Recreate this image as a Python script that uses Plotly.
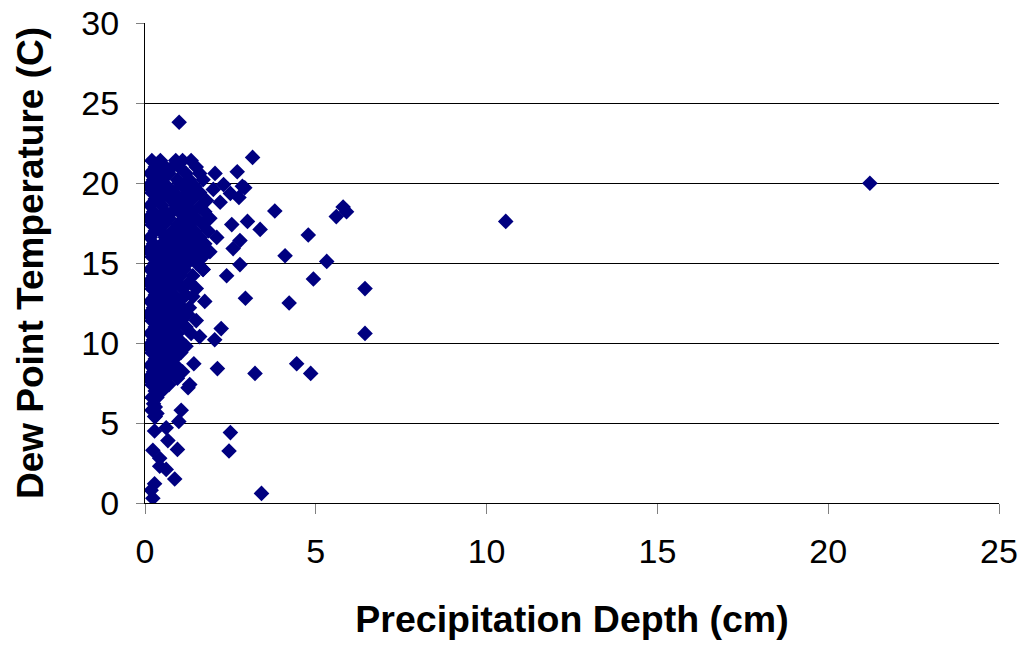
import plotly.graph_objects as go

# Dense cluster near the origin (precipitation depth cm, dew point C)
cluster_x = [
    0.2, 0.45, 0.9, 1.1, 1.35,
    0.3, 0.6, 0.8, 1.0, 1.5,
    0.15, 0.4, 0.7, 1.2, 1.6, 2.05, 2.7,
    0.25, 0.5, 0.95, 1.3, 1.7,
    0.1, 0.35, 0.65, 1.1, 1.45, 2.0, 2.3, 2.85,
    0.2, 0.55, 0.85, 1.25, 1.6, 2.5, 2.75,
    0.3, 0.45, 0.75, 1.05, 1.4, 1.8,
    0.15, 0.5, 0.9, 1.2, 1.6, 2.2,
    0.25, 0.6, 0.8, 1.0, 1.35, 1.75,
    0.1, 0.4, 0.7, 1.15, 1.5, 1.9,
    0.2, 0.55, 0.95, 1.3, 1.7,
    0.3, 0.45, 0.8, 1.1, 1.45, 1.85,
    0.15, 0.6, 0.9, 1.25, 1.6,
    0.25, 0.5, 0.75, 1.05, 1.4, 1.75,
    0.1, 0.35, 0.65, 0.95, 1.2, 1.55, 1.9,
    0.2, 0.55, 0.85, 1.1, 1.35, 1.7,
    0.3, 0.45, 0.7, 1.0, 1.25, 1.5,
    0.15, 0.4, 0.6, 0.9, 1.15, 1.7,
    0.25, 0.5, 0.8, 1.05, 1.4,
    0.1, 0.35, 0.65, 0.95, 1.3,
    0.2, 0.45, 0.75, 1.1, 1.5,
    0.3, 0.55, 0.85, 1.2, 1.4,
    0.15, 0.4, 0.7, 1.0,
    0.25, 0.5, 0.8, 1.1, 1.3,
    0.1, 0.35, 0.6, 0.9, 1.25,
    0.2, 0.45, 0.75, 1.05, 1.5,
    0.3, 0.55, 0.85, 1.2,
    0.15, 0.4, 0.65, 0.95, 1.35,
    0.25, 0.5, 0.8, 1.0,
    0.1, 0.35, 0.6, 0.9, 1.2,
    0.2, 0.45, 0.75, 1.05,
    0.3, 0.55, 0.85,
    0.15, 0.4, 0.65, 0.9,
    0.25, 0.5, 0.8, 1.1,
    0.1, 0.35, 0.6, 0.95,
    0.2, 0.45, 0.7,
    0.3, 0.5,
    0.2, 0.35,
    0.25, 0.3,
    0.2, 0.35,
    0.3,
]
cluster_y = [
    21.4, 21.4, 21.4, 21.4, 21.4,
    21.0, 21.0, 21.0, 21.0, 21.0,
    20.6, 20.6, 20.6, 20.6, 20.6, 20.6, 20.7,
    20.2, 20.2, 20.2, 20.2, 20.2,
    19.8, 19.8, 19.8, 19.8, 19.8, 19.6, 19.9, 19.8,
    19.4, 19.4, 19.4, 19.4, 19.4, 19.35, 19.1,
    19.0, 19.0, 19.0, 19.0, 19.0, 18.9,
    18.6, 18.6, 18.6, 18.6, 18.5, 18.8,
    18.2, 18.2, 18.2, 18.2, 18.2, 18.2,
    17.8, 17.8, 17.8, 17.8, 17.8, 17.8,
    17.4, 17.4, 17.4, 17.4, 17.4,
    17.0, 17.0, 17.0, 17.0, 17.0, 17.0,
    16.6, 16.6, 16.6, 16.6, 16.6,
    16.2, 16.2, 16.2, 16.2, 16.2, 16.2,
    15.8, 15.8, 15.8, 15.8, 15.8, 15.8, 15.7,
    15.4, 15.4, 15.4, 15.4, 15.4, 15.4,
    15.0, 15.0, 15.0, 15.0, 15.0, 15.0,
    14.6, 14.6, 14.6, 14.6, 14.6, 14.6,
    14.2, 14.2, 14.2, 14.2, 14.2,
    13.8, 13.8, 13.8, 13.8, 13.8,
    13.4, 13.4, 13.4, 13.4, 13.4,
    13.0, 13.0, 13.0, 13.0, 12.9,
    12.6, 12.6, 12.6, 12.6,
    12.2, 12.2, 12.2, 12.2, 12.2,
    11.8, 11.8, 11.8, 11.8, 11.8,
    11.4, 11.4, 11.4, 11.4, 11.4,
    11.0, 11.0, 11.0, 11.0,
    10.6, 10.6, 10.6, 10.6, 10.6,
    10.2, 10.2, 10.2, 10.2,
    9.8, 9.8, 9.8, 9.8, 9.8,
    9.4, 9.4, 9.4, 9.4,
    9.0, 9.0, 9.0,
    8.6, 8.6, 8.6, 8.6,
    8.2, 8.2, 8.2, 8.2,
    7.8, 7.8, 7.8, 7.8,
    7.4, 7.4, 7.4,
    7.0, 7.0,
    6.6, 6.6,
    6.2, 6.0,
    5.8, 5.6,
    5.4,
]

# Scattered points away from the cluster
outer_x = [21.22, 10.56, 6.44, 6.44, 5.8, 5.9, 5.6, 5.32, 4.93, 4.78,
           4.85, 4.44, 4.22, 4.1, 3.8, 3.41, 3.37, 3.22, 3.15, 3.0,
           2.94, 2.92, 2.78, 2.78, 2.58, 2.54, 2.39, 2.23, 2.12, 2.04,
           2.1, 1.75, 1.6, 1.7, 2.5, 2.46, 1.43, 1.31, 1.26, 1.06,
           1.0, 0.99, 1.0, 0.28, 0.62, 0.67, 0.95, 0.23, 0.43, 0.43,
           0.62, 0.87, 0.28, 0.18, 0.23, 0.28]
outer_y = [19.98, 17.6, 13.4, 10.6, 18.5, 18.2, 17.9, 15.1, 14.0, 16.75,
           8.1, 8.7, 12.5, 15.45, 18.25, 0.6, 17.1, 8.1, 21.6, 17.6,
           12.8, 19.7, 16.4, 14.9, 15.9, 17.4, 14.2, 10.9, 8.4, 10.2,
           16.6, 12.6, 10.4, 14.6, 4.4, 3.25, 8.7, 7.4, 7.2, 5.8,
           23.8, 5.1, 20.0, 4.5, 4.7, 3.9, 3.35, 3.3, 2.8, 2.3,
           2.1, 1.5, 1.2, 0.8, 0.3, 5.4]

x_vals = cluster_x + outer_x
y_vals = cluster_y + outer_y

x_ticks = [0, 5, 10, 15, 20, 25]
y_ticks = [0, 5, 10, 15, 20, 25, 30]

fig = go.Figure()
fig.add_trace(go.Scatter(
    x=x_vals, y=y_vals, mode="markers",
    marker=dict(symbol="diamond", size=12, color="#000080", line=dict(width=0)),
    showlegend=False,
))

fig.update_layout(
    width=1026, height=648,
    margin=dict(l=145, r=27, t=23, b=145),
    paper_bgcolor="white", plot_bgcolor="white",
    font=dict(family="Liberation Sans, Arial, sans-serif", color="black"),
    xaxis=dict(
        range=[0, 25], tickvals=x_ticks, ticktext=[str(v) for v in x_ticks],
        showgrid=False, zeroline=False, automargin=False,
        showline=True, linecolor="black", linewidth=1,
        ticks="outside", ticklen=10, tickcolor="#808080", tickwidth=1,
        tickfont=dict(size=34), ticklabelstandoff=8,
        title=dict(text="<b>Precipitation Depth (cm)</b>", font=dict(size=37.5), standoff=36),
    ),
    yaxis=dict(
        range=[0, 30], tickvals=y_ticks, ticktext=[str(v) for v in y_ticks],
        showgrid=True, gridcolor="black", gridwidth=1, zeroline=False, automargin=False,
        showline=True, linecolor="black", linewidth=1,
        ticks="outside", ticklen=8, tickcolor="#808080", tickwidth=1,
        tickfont=dict(size=34), ticklabelstandoff=10,
        title=dict(text="<b>Dew Point Temperature (C)</b>", font=dict(size=37), standoff=26),
    ),
)

fig.write_html("out.html")
